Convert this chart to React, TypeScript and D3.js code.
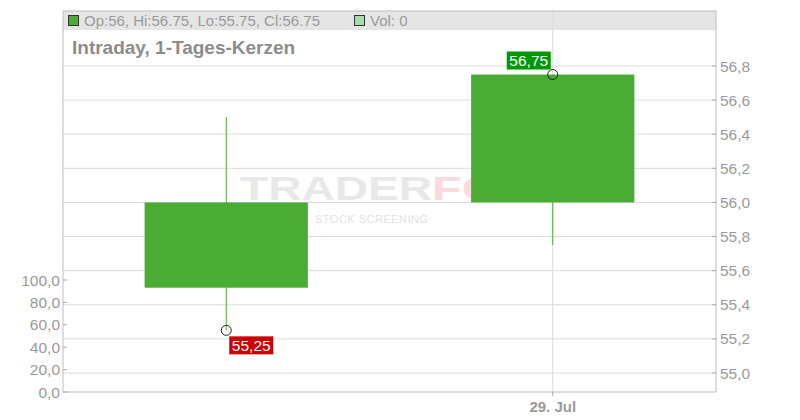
import React from 'react'
import * as d3 from 'd3'

// candle data
const dates = ['28. Jul', '29. Jul']
const opens = [55.5, 56.0]
const highs = [56.5, 56.75]
const lows = [55.25, 55.75]
const closes = [56.0, 56.75]
const volumes = [0, 0]

const priceTicks = [55.0, 55.2, 55.4, 55.6, 55.8, 56.0, 56.2, 56.4, 56.6, 56.8]
const volumeTicks = [0, 20, 40, 60, 80, 100]
const dateLabels = ['29. Jul']

const legendText = 'Op:56, Hi:56.75, Lo:55.75, Cl:56.75'
const volumeText = 'Vol: 0'
const title = 'Intraday, 1-Tages-Kerzen'
const lowLabel = { index: 0, value: 55.25 }
const highLabel = { index: 1, value: 56.75 }

const width = 800
const height = 420
const left = 63
const right = 716
const top = 11
const bottom = 392

const fmt = (v: number) => d3.format('.1f')(v).replace('.', ',')
const fmt2 = (v: number) => d3.format('.2f')(v).replace('.', ',')

const App = () => {
    const x = d3.scalePoint<string>().domain(dates).range([left, right]).padding(0.5)
    const y = d3.scaleLinear().domain([55.0, 56.8]).range([373, 66])
    const yVol = d3.scaleLinear().domain([0, 100]).range([bottom, 280])
    const candleWidth = x.step() * 0.5

    const green = '#4aac34'
    const gridColor = '#dcdcdc'
    const frameColor = '#bdbdbd'
    const textColor = '#9a9a9a'
    const font = '"Liberation Sans", Arial, sans-serif'

    const lx = x(dates[lowLabel.index]) as number
    const ly = y(lowLabel.value)
    const hx = x(dates[highLabel.index]) as number
    const hy = y(highLabel.value)

    return (
        <div style={{ position: 'absolute', left: 0, top: 0 }}>
            <svg width={width} height={height} style={{ fontFamily: font, display: 'block' }}>
                <rect x={0} y={0} width={width} height={height} fill="white" />

                {/* header band */}
                <rect x={left} y={top} width={right - left} height={19} fill="#e5e5e5" />

                {/* price gridlines */}
                {priceTicks.map(t => (
                    <line key={`g-${t}`} x1={left} x2={right} y1={y(t)} y2={y(t)} stroke={gridColor} />
                ))}
                {dateLabels.map(d => (
                    <line key={`vg-${d}`} x1={x(d)} x2={x(d)} y1={top} y2={bottom} stroke={gridColor} />
                ))}

                {/* watermark */}
                <g opacity={0.9}>
                    <text x={240} y={200} fontSize={33} fontWeight="bold" fill="#e6e6e6" textLength={192} lengthAdjust="spacingAndGlyphs">TRADER</text>
                    <text x={432} y={200} fontSize={33} fontWeight="bold" fill="#fbd5da" textLength={100} lengthAdjust="spacingAndGlyphs">FOX</text>
                    <text x={315} y={223} fontSize={11} fill="#e0e0e0" textLength={113} lengthAdjust="spacing">STOCK SCREENING</text>
                </g>

                {/* volume bars (all zero) */}
                {volumes.map((v, i) => (
                    <rect key={`v-${i}`} x={(x(dates[i]) as number) - candleWidth / 2} y={yVol(v)}
                          width={candleWidth} height={yVol(0) - yVol(v)} fill="#a8dca8" />
                ))}

                {/* candles */}
                {dates.map((d, i) => {
                    const cx = x(d) as number
                    const bodyTop = y(Math.max(opens[i], closes[i]))
                    const bodyBottom = y(Math.min(opens[i], closes[i]))
                    return (
                        <g key={`c-${d}`}>
                            <line x1={cx} x2={cx} y1={y(highs[i])} y2={y(lows[i])} stroke={green} strokeWidth={1} />
                            <rect x={cx - candleWidth / 2} y={bodyTop} width={candleWidth}
                                  height={bodyBottom - bodyTop} fill={green} />
                        </g>
                    )
                })}

                {/* frame */}
                <rect x={left} y={top} width={right - left} height={bottom - top} fill="none" stroke={frameColor} />

                {/* right price axis */}
                {priceTicks.map(t => (
                    <g key={`pt-${t}`}>
                        <line x1={right - 4} x2={right} y1={y(t)} y2={y(t)} stroke="#aaa" />
                        <text x={right + 4} y={y(t)} dy="0.36em" fontSize={15.5} fill={textColor}>{fmt(t)}</text>
                    </g>
                ))}

                {/* left volume axis */}
                {volumeTicks.map(t => (
                    <g key={`vt-${t}`}>
                        <line x1={left} x2={left + 4} y1={yVol(t)} y2={yVol(t)} stroke="#aaa" />
                        <text x={left - 3} y={yVol(t)} dy="0.36em" fontSize={15.5} fill={textColor} textAnchor="end">{fmt(t)}</text>
                    </g>
                ))}

                {/* x axis */}
                {dateLabels.map(d => (
                    <g key={`xt-${d}`}>
                        <line x1={x(d)} x2={x(d)} y1={bottom} y2={bottom + 4} stroke="#aaa" />
                        <text x={x(d)} y={412} fontSize={15} fontWeight="bold" fill={textColor} textAnchor="middle">{d}</text>
                    </g>
                ))}

                {/* legend */}
                <rect x={68.5} y={15.5} width={10} height={10} fill={green} stroke="#333" />
                <text x={84} y={26} fontSize={15} fill={textColor}>{legendText}</text>
                <rect x={354.5} y={15.5} width={10} height={10} fill="#a8dca8" stroke="#333" />
                <text x={370} y={26} fontSize={15} fill={textColor}>{volumeText}</text>

                <text x={72} y={54} fontSize={19} fontWeight="bold" fill="#8c8c8c">{title}</text>

                {/* high / low markers */}
                <circle cx={lx} cy={ly} r={5} fill="none" stroke="#222" />
                <rect x={lx + 3} y={ly + 6} width={44} height={18} fill="#cc0000" />
                <text x={lx + 25} y={ly + 15} dy="0.36em" fontSize={15.5} fill="white" textAnchor="middle">{fmt2(lowLabel.value)}</text>

                <circle cx={hx} cy={hy} r={5} fill="none" stroke="#222" />
                <rect x={hx - 46} y={hy - 23} width={44} height={18} fill="#009900" />
                <text x={hx - 24} y={hy - 14} dy="0.36em" fontSize={15.5} fill="white" textAnchor="middle">{fmt2(highLabel.value)}</text>
            </svg>
        </div>
    )
}

export default App
